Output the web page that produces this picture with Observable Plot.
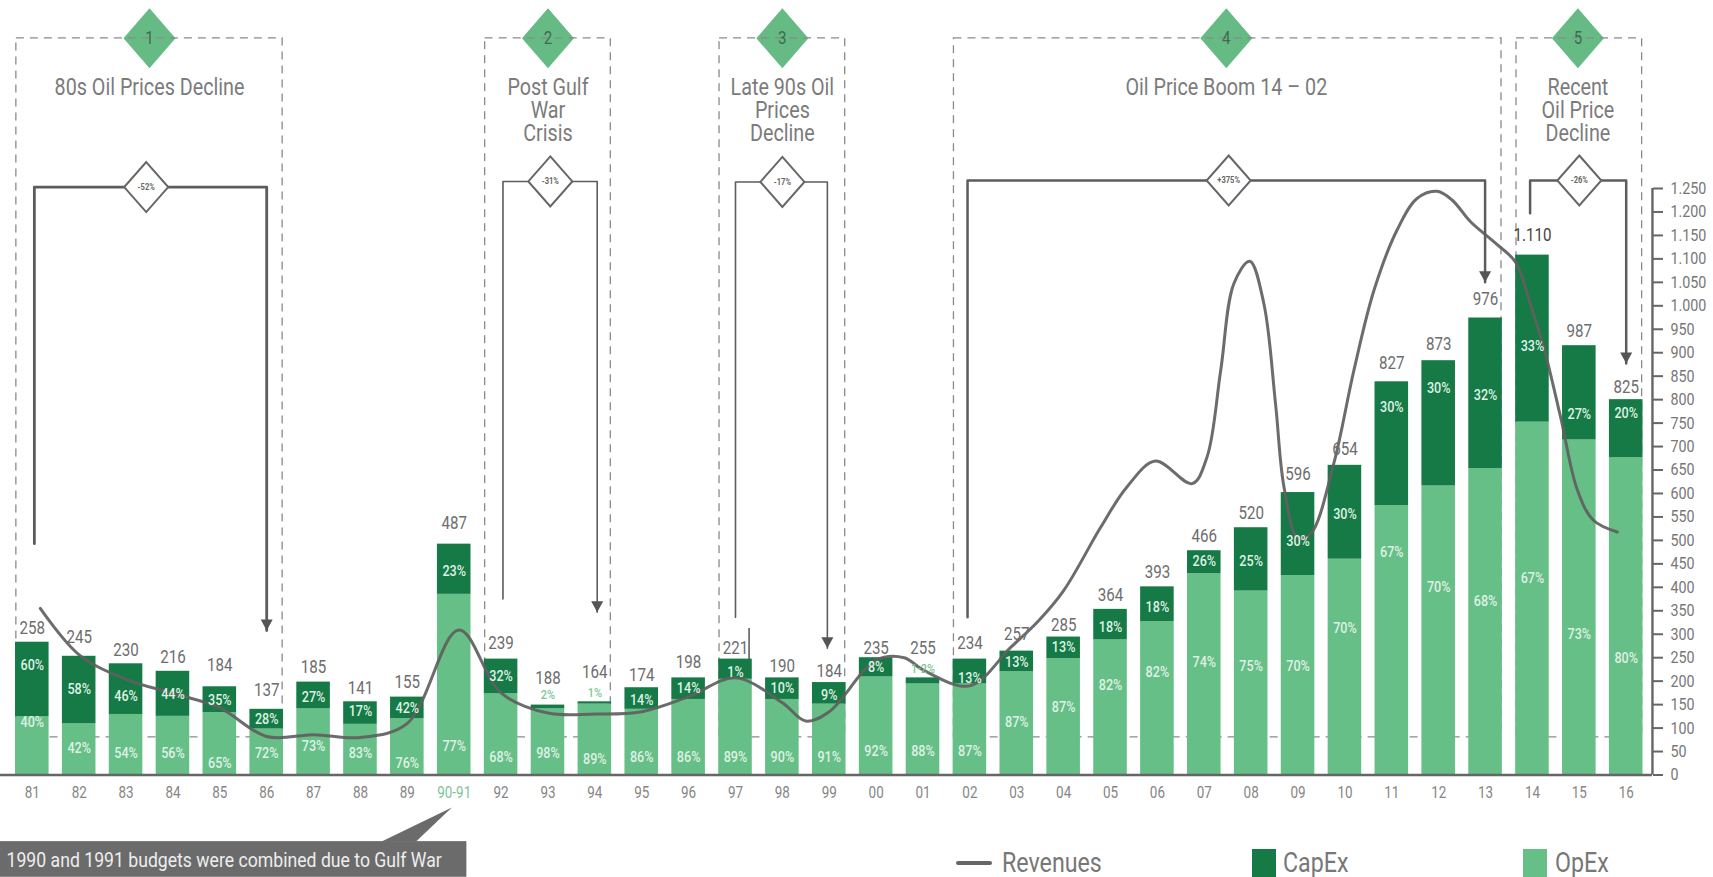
<!DOCTYPE html>
<html><head><meta charset="utf-8">
<script src="https://cdn.jsdelivr.net/npm/d3@7"></script>
<script src="https://cdn.jsdelivr.net/npm/@observablehq/plot@0.6"></script>
<style>
html,body{margin:0;padding:0;background:#fff;overflow:hidden}
#wrap{position:relative;width:1713px;height:877px}
#wrap svg{position:absolute;left:0;top:0}
.lg{position:absolute;font-family:Roboto,sans-serif;font-size:27px;color:#777;line-height:28px;transform:scaleX(.86);transform-origin:left center}
.sw{position:absolute;width:24px;height:28px;top:849px}
</style></head><body><div id="wrap"></div>
<script>
const years = ["81","82","83","84","85","86","87","88","89","90-91","92","93","94","95","96","97","98","99","00","01","02","03","04","05","06","07","08","09","10","11","12","13","14","15","16"];
const barTop = [283,253,237,221,188,140,198,156,166,492,247,149,156,186,207,247,207,197,250,207,247,264,294,353,401,478,527,602,660,838,883,974,1108,915,800];
const opexTop = [124,109,129,125,133,98,141,108,120,385,173,141,151,140,161,204,161,151,209,194,194,220,248,288,327,429,392,425,460,574,616,653,752,714,676];
const totalLabels = ["258","245","230","216","184","137","185","141","155","487","239","188","164","174","198","221","190","184","235","255","234","257","285","364","393","466","520","596","654","827","873","976","1.110","987","825"];
const totalLabelAt = [313,294,266,252,233,180,229,185,197,537,280,206,220,213,241,271,232,222,271,271,280,299,320,383,432,509,558,641,695,877,919,1014,1151,946,827];
const capexPct = ["60","58","46","44","35","28","27","17","42","23","32","2","1","14","14","1","10","9","8","1-2","13","13","13","18","18","26","25","30","30","30","30","32","33","27","20"];
const opexPct = ["40","42","54","56","65","72","73","83","76","77","68","98","89","86","86","89","90","91","92","88","87","87","87","82","82","74","75","70","70","67","70","68","67","73","80"];
const capexPctAt = [234,183,168,173,159,119,166,136,143,434,211,171,176,159,185,220,185,171,229,227,206,241,273,315,357,455,455,499,555,783,825,809,914,769,772];
const opexPctAt = [113,57,47,47,26,47,61,47,26,61,38,47,33,38,38,38,38,38,50,50,50,113,145,192,220,241,232,232,313,474,401,371,420,301,248];
const revenueAt = [0.17,1,2,3,4,5,6,7,8,9.1,10,11,12,13,14,15,16,16.5,17,18,18.6,19,20,20.87,21.44,22,22.79,23.35,23.96,24.74,25.06,25.35,25.63,25.97,26.27,26.52,26.7,27,27.27,27.76,28.19,28.62,29.11,29.54,29.97,30.29,30.68,31.18,31.64,31.95,32.24,32.6,32.96,33.3,33.81];
const revenue = [355,256,204,174,143,82,86,80,110,309,175,132,130,135,167,207,154,115,135,245,250,224,190,272,326,393,528,614,669,621,678,862,1047,1095,1005,791,614,504,514,663,862,1033,1161,1229,1244,1225,1179,1136,1093,1005,912,763,607,543,518];

const eraNames = ["1","2","3","4","5"];
const eraFirst = [0,10,15,20,32];
const eraLast = [5,12,17,31,34];
const eraCenter = [2.5,11.0,16.0,25.47,32.97];
const eraTitles = [["80s Oil Prices Decline"],["Post Gulf","War","Crisis"],["Late 90s Oil","Prices","Decline"],["Oil Price Boom 14 – 02"],["Recent","Oil Price","Decline"]];
const eraChange = ["-52%","-31%","-17%","+375%","-26%"];
const changeCenter = [2.43,11.05,16.0,25.52,33.0];
const bracketLeftAt = [0.044,10.04,15,19.95,31.95];
const bracketRightAt = [5,12.05,16.96,30.99,34];
const bracketTop = [1253,1265,1264,1267,1267];
const bracketLeftEnd = [493,375,336,336,1197];
const bracketRightEnd = [308,347,270,1050,877];
const bracketWeight = [2.8,1.6,1.6,2.5,2.5];
const boxTop = 1570, boxBottom = 80;

const font = 'Roboto,"DejaVu Sans Condensed",sans-serif';
const idx = years.map((_, i) => i);
const halfBar = 0.358;
const diamond = (w, h) => ({draw(c){c.moveTo(0,-h);c.lineTo(w,0);c.lineTo(0,h);c.lineTo(-w,0);c.closePath();}});
const tri = {draw(c){c.moveTo(-6,-11);c.lineTo(6,-11);c.lineTo(0,0);c.closePath();}};
const eras = eraNames.map((n,i)=>({n,i,a:eraFirst[i],b:eraLast[i],la:bracketLeftAt[i],ra:bracketRightAt[i],cx:eraCenter[i],dx:changeCenter[i],t:bracketTop[i],l:bracketLeftEnd[i],r:bracketRightEnd[i],change:eraChange[i]}));
const titleLines = eras.flatMap((e,i)=>eraTitles[i].map((s,k)=>({s,x:e.cx,k})));
const bracketMarks = eras.map((e,i)=>Plot.line([
  {x:e.la,y:e.l},{x:e.la,y:e.t},{x:e.ra,y:e.t},{x:e.ra,y:e.r}],{x:"x",y:"y",stroke:"#5c5c5c",strokeWidth:bracketWeight[i]}));
const rows = idx.map(i=>({i,year:years[i],top:barTop[i],op:opexTop[i],total:totalLabels[i],tAt:totalLabelAt[i],cp:capexPct[i]+"%",ocp:opexPct[i]+"%",cAt:capexPctAt[i],oAt:opexPctAt[i]}));
const rev = revenueAt.map((x,k)=>({x,y:revenue[k]}));
const smallCap = new Set([11,12,19]);
const calloutBox = {x1:-0.68,x2:9.27,y1:-218,y2:-142};
const calloutTip = [{x:7.44,y:-142},{x:8.95,y:-69},{x:8.18,y:-142}];
const axisRight = 34.56;

const txt = {fontFamily:font};
const chart = Plot.plot({
  width:1713,height:877,
  marginLeft:0,marginRight:61,marginTop:188,marginBottom:102.5,
  x:{type:"linear",domain:[0,34],range:[31.8,1625.7],axis:null},
  y:{domain:[0,1250],range:[774.5,188],axis:null},
  style:{background:"#fff",fontFamily:font},
  marks:[
    Plot.dot(eras,{x:"cx",y:boxTop,r:10,symbol:diamond(26,30),fill:"#66bb84",stroke:"none"}),
    Plot.rect(eras,{x1:d=>d.a-0.34,x2:d=>d.b+0.34,y1:boxBottom,y2:boxTop,fill:"none",stroke:"#8a8a8a",strokeWidth:1.3,strokeDasharray:"8 6"}),
    Plot.text(eras,{x:"cx",y:boxTop,text:"n",fontSize:18,fill:"#3f6a52",...txt}),
    Plot.text(titleLines,{x:"x",y:d=>1465-d.k*49,text:"s",fontSize:23.5,fill:"#7b7b7b",...txt}),
    Plot.rect(rows,{x1:d=>d.i-halfBar,x2:d=>d.i+halfBar,y1:0,y2:"op",fill:"#66bf86"}),
    Plot.rect(rows,{x1:d=>d.i-halfBar,x2:d=>d.i+halfBar,y1:"op",y2:"top",fill:"#157a46"}),
    Plot.line(rev,{x:"x",y:"y",curve:"catmull-rom",stroke:"#5f5f5f",strokeWidth:3,strokeOpacity:0.92}),
    ...bracketMarks,
    Plot.dot(eras,{x:"ra",y:"r",r:6,symbol:tri,fill:"#555",stroke:"none"}),
    Plot.ruleX([15.29],{y1:244,y2:312,stroke:"#555",strokeWidth:1.5}),
    Plot.dot(eras,{x:"dx",y:"t",r:10,symbol:diamond(22,25),fill:"#fff",stroke:"#666",strokeWidth:2}),
    Plot.text(eras,{x:"dx",y:"t",text:"change",fontSize:9,fill:"#666",fontWeight:"bold",...txt}),
    Plot.text(rows,{x:"i",y:"tAt",text:"total",fontSize:18,fill:d=>d.i===32?"#444":"#6d6d6d",fontWeight:d=>d.i===32?"bold":"normal",...txt}),
    Plot.text(rows.filter(d=>!smallCap.has(d.i)),{x:"i",y:"cAt",text:"cp",fontSize:15,fontWeight:500,fill:"#dff1e5",...txt}),
    Plot.text(rows.filter(d=>smallCap.has(d.i)),{x:"i",y:"cAt",text:"cp",fontSize:13,fontWeight:500,fill:"#7cc998",...txt}),
    Plot.text(rows,{x:"i",y:"oAt",text:"ocp",fontSize:15,fontWeight:500,fill:"#dff1e5",...txt}),
    Plot.text(rows,{x:"i",y:-39,text:"year",fontSize:16,fill:d=>d.i===9?"#7dc49a":"#858585",...txt}),
    Plot.ruleY([0],{x1:-0.68,x2:axisRight,stroke:"#666",strokeWidth:2.4}),
    Plot.ruleX([axisRight],{y1:0,y2:1250,stroke:"#666",strokeWidth:2.4}),
    Plot.axisY({anchor:"right",ticks:d3.range(0,1251,50),tickSize:10,tickPadding:8,stroke:"#666",strokeWidth:2,fontSize:17,color:"#777",tickFormat:d=>d>=1000?d3.format(",")(d).replace(",","."):String(d),textAnchor:"start",fontFamily:font}),
    Plot.line(calloutTip,{x:"x",y:"y",fill:"#6b6b6b",stroke:null}),
    Plot.rect([calloutBox],{x1:"x1",x2:"x2",y1:"y1",y2:"y2",fill:"#6b6b6b"}),
    Plot.text(["1990 and 1991 budgets were combined due to Gulf War"],{x:-0.55,y:-181,text:d=>d,textAnchor:"start",fontSize:21,fill:"#eee",...txt})
  ]
});
const wrap=document.getElementById("wrap");
wrap.appendChild(chart);
// The source face is a condensed DIN: narrow the installed face to the same set width.
chart.querySelectorAll("text").forEach(t=>{
  const w=t.getComputedTextLength();
  if(w>0){t.setAttribute("textLength",(w*0.84).toFixed(1));t.setAttribute("lengthAdjust","spacingAndGlyphs");}
});
wrap.insertAdjacentHTML("beforeend",`
<div style="position:absolute;left:956px;top:861px;width:36px;height:4px;background:#666;border-radius:2px"></div>
<div class="lg" style="left:1002px;top:849px">Revenues</div>
<div class="sw" style="left:1252px;background:#157a46"></div>
<div class="lg" style="left:1283px;top:849px">CapEx</div>
<div class="sw" style="left:1523px;background:#66bf86"></div>
<div class="lg" style="left:1555px;top:849px">OpEx</div>`);
</script></body></html>
